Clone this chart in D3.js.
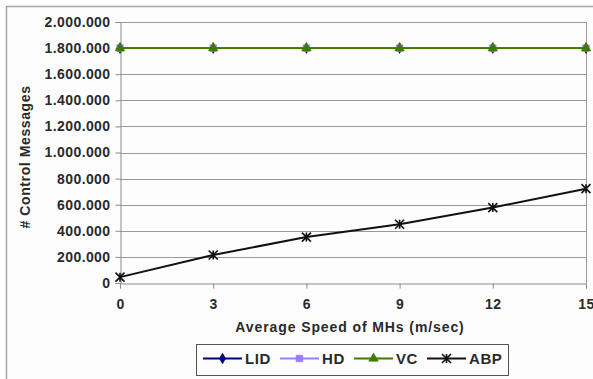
<!DOCTYPE html>
<html>
<head>
<meta charset="utf-8">
<script src="https://cdn.jsdelivr.net/npm/d3@7"></script>
<style>
  html, body { margin: 0; padding: 0; background: #ffffff; }
  svg { display: block; }
  text { font-family: "Liberation Sans", Arial, sans-serif; }
</style>
</head>
<body>
<svg id="chart" width="593" height="379"></svg>
<script>
// Average speed of mobile hosts (m/sec)
const speeds = [0, 3, 6, 9, 12, 15];
// Number of control messages per scheme
const lidValues = [1800000, 1800000, 1800000, 1800000, 1800000, 1800000];
const hdValues  = [1800000, 1800000, 1800000, 1800000, 1800000, 1800000];
const vcValues  = [1800000, 1800000, 1800000, 1800000, 1800000, 1800000];
const abpValues = [45000, 215000, 352000, 450000, 578000, 723000];
const seriesNames = ["LID", "HD", "VC", "ABP"];
const yTicks = [0, 200000, 400000, 600000, 800000, 1000000, 1200000, 1400000, 1600000, 1800000, 2000000];

const colors = { LID: "#000080", HD: "#9a7cff", VC: "#3d7a00", ABP: "#111111" };
const symbols = { LID: d3.symbolDiamond, HD: d3.symbolSquare, VC: d3.symbolTriangle, ABP: "star" };

const series = [
  { name: "LID", values: lidValues },
  { name: "HD", values: hdValues },
  { name: "VC", values: vcValues },
  { name: "ABP", values: abpValues }
];

const svg = d3.select("#chart");
const plot = { left: 120, top: 22, right: 586, bottom: 283 };

// outer chart frame (left + top edges visible)
svg.append("rect").attr("x", 0).attr("y", 0).attr("width", 593).attr("height", 379).attr("fill", "#fdfdfd");
svg.append("path").attr("d", "M6.5,379 V6.5 H593").attr("fill", "none").attr("stroke", "#a8a8a8").attr("stroke-width", 1.5);

const x = d3.scaleLinear().domain([0, 15]).range([plot.left, plot.right]);
const y = d3.scaleLinear().domain([0, 2000000]).range([plot.bottom, plot.top]);

const fmt = v => d3.format(",")(v).replace(/,/g, ".");

// horizontal gridlines
svg.append("g").selectAll("line").data(yTicks.slice(1)).join("line")
  .attr("x1", plot.left).attr("x2", plot.right)
  .attr("y1", d => Math.round(y(d)) + 0.5).attr("y2", d => Math.round(y(d)) + 0.5)
  .attr("stroke", "#9a9a9a").attr("stroke-width", 1);

// right border of plot area
svg.append("line").attr("x1", plot.right + 0.5).attr("x2", plot.right + 0.5)
  .attr("y1", plot.top).attr("y2", plot.bottom).attr("stroke", "#9a9a9a");

const labelFont = "Liberation Sans, Arial, sans-serif";

// y axis
const yAxis = d3.axisLeft(y).tickValues(yTicks).tickFormat(fmt).tickSize(5).tickPadding(5);
const gy = svg.append("g").attr("transform", `translate(${plot.left + 0.5},0)`).call(yAxis);
gy.select(".domain").attr("stroke", "#8a8a8a");
gy.selectAll(".tick line").attr("stroke", "#8a8a8a");
gy.selectAll(".tick text").attr("font-size", 14).attr("font-weight", "bold").attr("letter-spacing", 0.4)
  .attr("fill", "#2a2a2a").attr("font-family", labelFont);

// x axis
const xAxis = d3.axisBottom(x).tickValues(speeds).tickSize(5).tickPadding(11);
const gx = svg.append("g").attr("transform", `translate(0,${plot.bottom + 0.5})`).call(xAxis);
gx.select(".domain").attr("stroke", "#8a8a8a");
gx.selectAll(".tick line").attr("stroke", "#8a8a8a");
gx.selectAll(".tick text").attr("font-size", 14).attr("font-weight", "bold").attr("letter-spacing", 0.4)
  .attr("fill", "#2a2a2a").attr("font-family", labelFont);

// axis titles
svg.append("text").attr("x", 350).attr("y", 332)
  .attr("text-anchor", "middle").attr("font-size", 14).attr("font-weight", "bold").attr("letter-spacing", 0.9)
  .attr("fill", "#2a2a2a").text("Average Speed of MHs (m/sec)");
svg.append("text").attr("transform", `translate(30,157) rotate(-90)`)
  .attr("text-anchor", "middle").attr("font-size", 14).attr("font-weight", "bold").attr("letter-spacing", 0.6)
  .attr("fill", "#2a2a2a").text("# Control Messages");

// marker drawing helper
function drawMarker(g, name, cx, cy) {
  const c = colors[name];
  if (symbols[name] === "star") {
    const s = 4.5;
    g.append("path")
      .attr("d", `M${cx - s},${cy - s}L${cx + s},${cy + s}M${cx - s},${cy + s}L${cx + s},${cy - s}M${cx},${cy - s}L${cx},${cy + s}`)
      .attr("stroke", c).attr("stroke-width", 1.6).attr("fill", "none");
  } else {
    const size = name === "LID" ? 34 : name === "HD" ? 45 : 40;
    g.append("path")
      .attr("d", d3.symbol().type(symbols[name]).size(size)())
      .attr("transform", `translate(${cx},${cy})`)
      .attr("fill", c).attr("stroke", c).attr("stroke-width", 0.5);
  }
}

const line = d3.line().x((d, i) => x(speeds[i])).y(d => y(d));

series.forEach(s => {
  const g = svg.append("g");
  g.append("path").datum(s.values).attr("d", line)
    .attr("fill", "none").attr("stroke", colors[s.name]).attr("stroke-width", s.name === "ABP" ? 2 : 1.8);
  s.values.forEach((v, i) => drawMarker(g, s.name, x(speeds[i]), y(v)));
});

// legend
const legend = svg.append("g");
legend.append("rect").attr("x", 196.5).attr("y", 344.5).attr("width", 312).attr("height", 31)
  .attr("fill", "#fdfdfd").attr("stroke", "#555").attr("stroke-width", 1);
const legendX = [203, 280, 354, 427];
seriesNames.forEach((name, i) => {
  const lx = legendX[i];
  const ly = 358.5;
  legend.append("line").attr("x1", lx).attr("x2", lx + 39).attr("y1", ly).attr("y2", ly)
    .attr("stroke", colors[name]).attr("stroke-width", 2);
  drawMarker(legend, name, lx + 19.5, ly);
  legend.append("text").attr("x", lx + 42).attr("y", ly + 5.5)
    .attr("font-size", 15).attr("font-weight", "bold").attr("letter-spacing", 0.6)
    .attr("fill", "#2a2a2a").text(name);
});
</script>
</body>
</html>
